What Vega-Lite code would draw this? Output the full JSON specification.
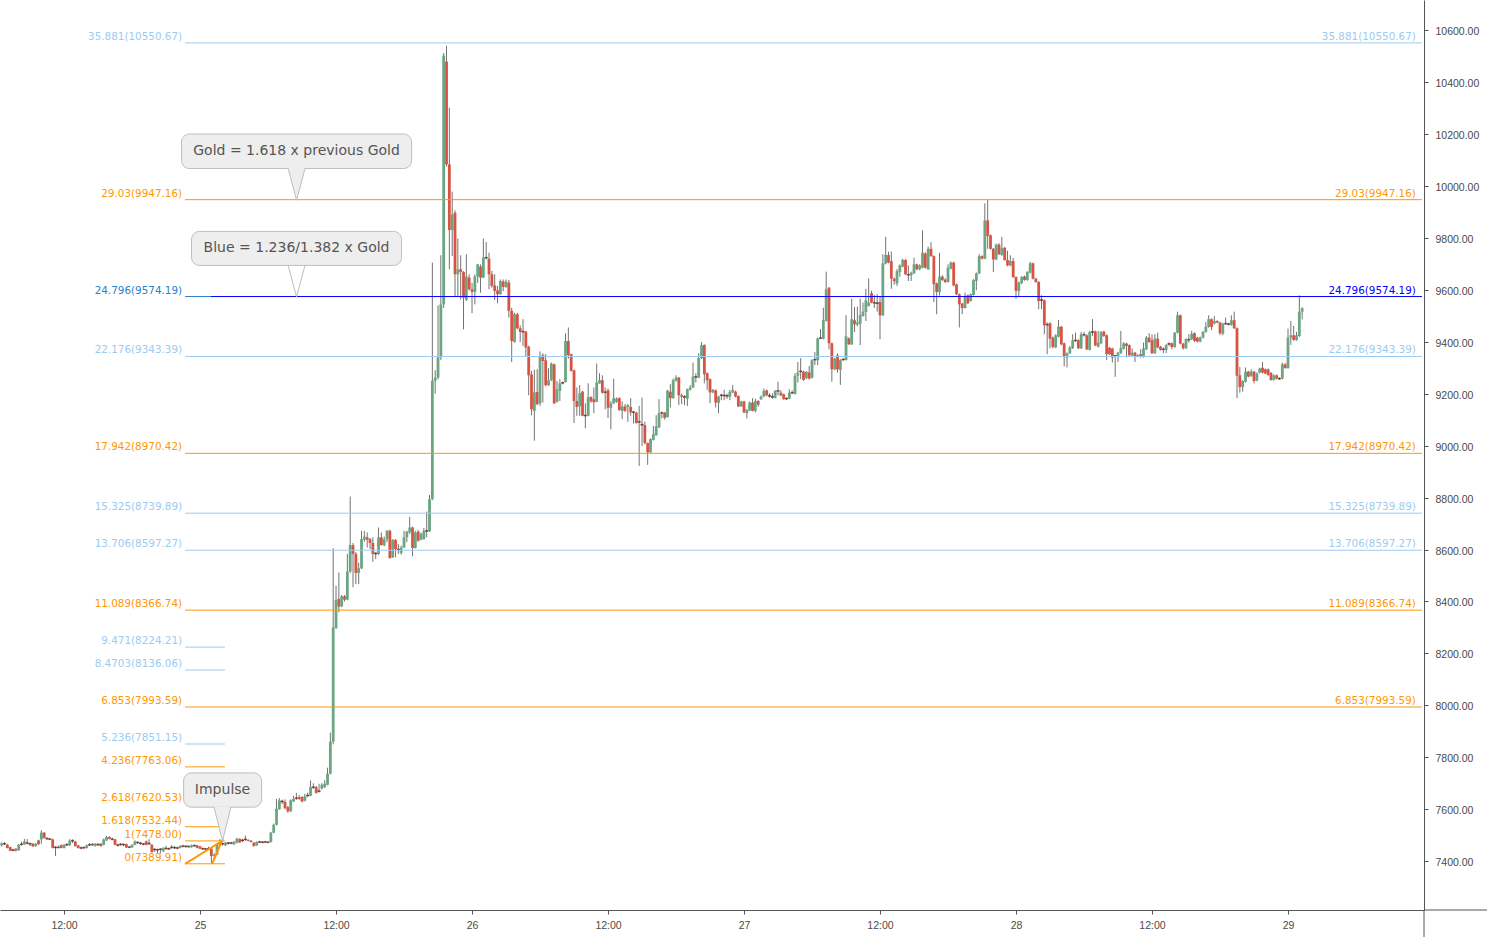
{"$schema":"https://vega.github.io/schema/vega-lite/v6.json","width":1424,"height":910,"autosize":"none","padding":{"left":0,"top":0,"right":63,"bottom":27},"background":"#ffffff","config":{"view":{"stroke":null}},
"datasets":{"candles":[
{"t":"2019-10-24T06:30","o":7460,"c":7469,"h":7472,"l":7457},{"t":"2019-10-24T06:45","o":7467,"c":7466,"h":7474,"l":7462},{"t":"2019-10-24T07:00","o":7463,"c":7451,"h":7467,"l":7449},{"t":"2019-10-24T07:15","o":7454,"c":7440,"h":7456,"l":7438},
{"t":"2019-10-24T07:30","o":7443,"c":7441,"h":7448,"l":7438},{"t":"2019-10-24T07:45","o":7448,"c":7441,"h":7450,"l":7437},{"t":"2019-10-24T08:00","o":7442,"c":7463,"h":7466,"l":7440},{"t":"2019-10-24T08:15","o":7465,"c":7464,"h":7475,"l":7460},
{"t":"2019-10-24T08:30","o":7465,"c":7476,"h":7486,"l":7462},{"t":"2019-10-24T08:45","o":7470,"c":7468,"h":7485,"l":7465},{"t":"2019-10-24T09:00","o":7467,"c":7466,"h":7472,"l":7458},{"t":"2019-10-24T09:15","o":7467,"c":7457,"h":7470,"l":7455},
{"t":"2019-10-24T09:30","o":7458,"c":7467,"h":7470,"l":7456},{"t":"2019-10-24T09:45","o":7480,"c":7465,"h":7483,"l":7463},{"t":"2019-10-24T10:00","o":7484,"c":7510,"h":7519,"l":7467},{"t":"2019-10-24T10:15","o":7510,"c":7489,"h":7512,"l":7487},
{"t":"2019-10-24T10:30","o":7487,"c":7486,"h":7492,"l":7482},{"t":"2019-10-24T10:45","o":7485,"c":7484,"h":7489,"l":7481},{"t":"2019-10-24T11:00","o":7484,"c":7451,"h":7486,"l":7449},{"t":"2019-10-24T11:15","o":7453,"c":7452,"h":7458,"l":7420},
{"t":"2019-10-24T11:30","o":7453,"c":7454,"h":7460,"l":7449},{"t":"2019-10-24T11:45","o":7462,"c":7451,"h":7464,"l":7449},{"t":"2019-10-24T12:00","o":7451,"c":7463,"h":7466,"l":7449},{"t":"2019-10-24T12:15","o":7463,"c":7462,"h":7470,"l":7459},
{"t":"2019-10-24T12:30","o":7461,"c":7479,"h":7485,"l":7459},{"t":"2019-10-24T12:45","o":7479,"c":7477,"h":7484,"l":7470},{"t":"2019-10-24T13:00","o":7476,"c":7458,"h":7478,"l":7456},{"t":"2019-10-24T13:15","o":7461,"c":7451,"h":7463,"l":7449},
{"t":"2019-10-24T13:30","o":7451,"c":7450,"h":7456,"l":7446},{"t":"2019-10-24T13:45","o":7452,"c":7451,"h":7457,"l":7447},{"t":"2019-10-24T14:00","o":7451,"c":7461,"h":7464,"l":7449},{"t":"2019-10-24T14:15","o":7463,"c":7462,"h":7470,"l":7459},
{"t":"2019-10-24T14:30","o":7464,"c":7465,"h":7470,"l":7460},{"t":"2019-10-24T14:45","o":7458,"c":7467,"h":7470,"l":7456},{"t":"2019-10-24T15:00","o":7464,"c":7463,"h":7469,"l":7459},{"t":"2019-10-24T15:15","o":7467,"c":7458,"h":7470,"l":7456},
{"t":"2019-10-24T15:30","o":7463,"c":7484,"h":7487,"l":7461},{"t":"2019-10-24T15:45","o":7480,"c":7493,"h":7497,"l":7478},{"t":"2019-10-24T16:00","o":7493,"c":7486,"h":7496,"l":7484},{"t":"2019-10-24T16:15","o":7485,"c":7484,"h":7490,"l":7480},
{"t":"2019-10-24T16:30","o":7484,"c":7463,"h":7486,"l":7461},{"t":"2019-10-24T16:45","o":7462,"c":7461,"h":7467,"l":7456},{"t":"2019-10-24T17:00","o":7465,"c":7464,"h":7469,"l":7459},{"t":"2019-10-24T17:15","o":7464,"c":7463,"h":7468,"l":7458},
{"t":"2019-10-24T17:30","o":7466,"c":7453,"h":7468,"l":7451},{"t":"2019-10-24T17:45","o":7454,"c":7453,"h":7458,"l":7450},{"t":"2019-10-24T18:00","o":7453,"c":7463,"h":7465,"l":7451},{"t":"2019-10-24T18:15","o":7463,"c":7476,"h":7480,"l":7461},
{"t":"2019-10-24T18:30","o":7472,"c":7471,"h":7476,"l":7467},{"t":"2019-10-24T18:45","o":7469,"c":7467,"h":7473,"l":7463},{"t":"2019-10-24T19:00","o":7466,"c":7465,"h":7470,"l":7461},{"t":"2019-10-24T19:15","o":7476,"c":7463,"h":7480,"l":7461},
{"t":"2019-10-24T19:30","o":7468,"c":7466,"h":7485,"l":7462},{"t":"2019-10-24T19:45","o":7463,"c":7435,"h":7466,"l":7433},{"t":"2019-10-24T20:00","o":7445,"c":7443,"h":7450,"l":7436},{"t":"2019-10-24T20:15","o":7444,"c":7443,"h":7448,"l":7432},
{"t":"2019-10-24T20:30","o":7446,"c":7445,"h":7450,"l":7429},{"t":"2019-10-24T20:45","o":7438,"c":7451,"h":7454,"l":7436},{"t":"2019-10-24T21:00","o":7449,"c":7448,"h":7460,"l":7445},{"t":"2019-10-24T21:15","o":7448,"c":7447,"h":7452,"l":7443},
{"t":"2019-10-24T21:30","o":7453,"c":7452,"h":7462,"l":7448},{"t":"2019-10-24T21:45","o":7452,"c":7451,"h":7458,"l":7447},{"t":"2019-10-24T22:00","o":7451,"c":7450,"h":7456,"l":7446},{"t":"2019-10-24T22:15","o":7451,"c":7458,"h":7462,"l":7449},
{"t":"2019-10-24T22:30","o":7458,"c":7457,"h":7463,"l":7453},{"t":"2019-10-24T22:45","o":7457,"c":7456,"h":7461,"l":7452},{"t":"2019-10-24T23:00","o":7456,"c":7458,"h":7462,"l":7452},{"t":"2019-10-24T23:15","o":7454,"c":7461,"h":7464,"l":7452},
{"t":"2019-10-24T23:30","o":7460,"c":7459,"h":7464,"l":7455},{"t":"2019-10-24T23:45","o":7461,"c":7451,"h":7463,"l":7449},{"t":"2019-10-25T00:00","o":7457,"c":7448,"h":7459,"l":7446},{"t":"2019-10-25T00:15","o":7448,"c":7447,"h":7452,"l":7443},
{"t":"2019-10-25T00:30","o":7447,"c":7446,"h":7451,"l":7442},{"t":"2019-10-25T00:45","o":7448,"c":7447,"h":7456,"l":7443},{"t":"2019-10-25T01:00","o":7448,"c":7420,"h":7450,"l":7393},{"t":"2019-10-25T01:15","o":7420,"c":7425,"h":7430,"l":7405},
{"t":"2019-10-25T01:30","o":7425,"c":7463,"h":7466,"l":7423},{"t":"2019-10-25T01:45","o":7467,"c":7465,"h":7485,"l":7462},{"t":"2019-10-25T02:00","o":7467,"c":7466,"h":7472,"l":7460},{"t":"2019-10-25T02:15","o":7461,"c":7471,"h":7474,"l":7459},
{"t":"2019-10-25T02:30","o":7470,"c":7468,"h":7474,"l":7464},{"t":"2019-10-25T02:45","o":7470,"c":7469,"h":7474,"l":7465},{"t":"2019-10-25T03:00","o":7465,"c":7474,"h":7478,"l":7463},{"t":"2019-10-25T03:15","o":7471,"c":7486,"h":7490,"l":7469},
{"t":"2019-10-25T03:30","o":7486,"c":7472,"h":7488,"l":7470},{"t":"2019-10-25T03:45","o":7480,"c":7478,"h":7486,"l":7474},{"t":"2019-10-25T04:00","o":7484,"c":7482,"h":7499,"l":7478},{"t":"2019-10-25T04:15","o":7482,"c":7478,"h":7484,"l":7476},
{"t":"2019-10-25T04:30","o":7479,"c":7474,"h":7481,"l":7472},{"t":"2019-10-25T04:45","o":7471,"c":7458,"h":7473,"l":7456},{"t":"2019-10-25T05:00","o":7461,"c":7474,"h":7476,"l":7459},{"t":"2019-10-25T05:15","o":7474,"c":7473,"h":7478,"l":7470},
{"t":"2019-10-25T05:30","o":7473,"c":7472,"h":7477,"l":7469},{"t":"2019-10-25T05:45","o":7474,"c":7473,"h":7478,"l":7470},{"t":"2019-10-25T06:00","o":7473,"c":7472,"h":7476,"l":7469},{"t":"2019-10-25T06:15","o":7474,"c":7510,"h":7513,"l":7472},
{"t":"2019-10-25T06:30","o":7510,"c":7540,"h":7545,"l":7508},{"t":"2019-10-25T06:45","o":7540,"c":7602,"h":7640,"l":7538},{"t":"2019-10-25T07:00","o":7600,"c":7634,"h":7643,"l":7598},{"t":"2019-10-25T07:15","o":7630,"c":7627,"h":7637,"l":7620},
{"t":"2019-10-25T07:30","o":7628,"c":7604,"h":7638,"l":7600},{"t":"2019-10-25T07:45","o":7608,"c":7592,"h":7612,"l":7586},{"t":"2019-10-25T08:00","o":7592,"c":7634,"h":7638,"l":7590},{"t":"2019-10-25T08:15","o":7630,"c":7640,"h":7652,"l":7628},
{"t":"2019-10-25T08:30","o":7643,"c":7642,"h":7663,"l":7636},{"t":"2019-10-25T08:45","o":7647,"c":7640,"h":7655,"l":7636},{"t":"2019-10-25T09:00","o":7647,"c":7630,"h":7650,"l":7626},{"t":"2019-10-25T09:15","o":7633,"c":7650,"h":7660,"l":7630},
{"t":"2019-10-25T09:30","o":7653,"c":7651,"h":7664,"l":7646},{"t":"2019-10-25T09:45","o":7652,"c":7685,"h":7711,"l":7650},{"t":"2019-10-25T10:00","o":7685,"c":7684,"h":7700,"l":7678},{"t":"2019-10-25T10:15","o":7685,"c":7663,"h":7690,"l":7660},
{"t":"2019-10-25T10:30","o":7670,"c":7668,"h":7698,"l":7664},{"t":"2019-10-25T10:45","o":7680,"c":7694,"h":7700,"l":7676},{"t":"2019-10-25T11:00","o":7685,"c":7698,"h":7712,"l":7682},{"t":"2019-10-25T11:15","o":7694,"c":7737,"h":7760,"l":7692},
{"t":"2019-10-25T11:30","o":7737,"c":7860,"h":7895,"l":7734},{"t":"2019-10-25T11:45","o":7860,"c":8300,"h":8605,"l":7850},{"t":"2019-10-25T12:00","o":8298,"c":8406,"h":8461,"l":8294},{"t":"2019-10-25T12:15","o":8410,"c":8381,"h":8512,"l":8358},
{"t":"2019-10-25T12:30","o":8381,"c":8420,"h":8425,"l":8378},{"t":"2019-10-25T12:45","o":8420,"c":8407,"h":8425,"l":8400},{"t":"2019-10-25T13:00","o":8407,"c":8515,"h":8583,"l":8405},{"t":"2019-10-25T13:15","o":8515,"c":8617,"h":8804,"l":8510},
{"t":"2019-10-25T13:30","o":8617,"c":8583,"h":8625,"l":8455},{"t":"2019-10-25T13:45","o":8583,"c":8510,"h":8590,"l":8467},{"t":"2019-10-25T14:00","o":8510,"c":8528,"h":8550,"l":8467},{"t":"2019-10-25T14:15","o":8528,"c":8640,"h":8672,"l":8525},
{"t":"2019-10-25T14:30","o":8638,"c":8650,"h":8672,"l":8630},{"t":"2019-10-25T14:45","o":8647,"c":8638,"h":8666,"l":8608},{"t":"2019-10-25T15:00","o":8640,"c":8625,"h":8645,"l":8602},{"t":"2019-10-25T15:15","o":8625,"c":8583,"h":8647,"l":8553},
{"t":"2019-10-25T15:30","o":8585,"c":8582,"h":8590,"l":8563},{"t":"2019-10-25T15:45","o":8583,"c":8647,"h":8685,"l":8579},{"t":"2019-10-25T16:00","o":8647,"c":8617,"h":8666,"l":8615},{"t":"2019-10-25T16:15","o":8617,"c":8640,"h":8650,"l":8612},
{"t":"2019-10-25T16:30","o":8640,"c":8672,"h":8675,"l":8628},{"t":"2019-10-25T16:45","o":8672,"c":8567,"h":8677,"l":8565},{"t":"2019-10-25T17:00","o":8570,"c":8637,"h":8640,"l":8568},{"t":"2019-10-25T17:15","o":8637,"c":8602,"h":8640,"l":8570},
{"t":"2019-10-25T17:30","o":8600,"c":8598,"h":8621,"l":8583},{"t":"2019-10-25T17:45","o":8587,"c":8608,"h":8615,"l":8580},{"t":"2019-10-25T18:00","o":8608,"c":8647,"h":8672,"l":8606},{"t":"2019-10-25T18:15","o":8647,"c":8669,"h":8672,"l":8628},
{"t":"2019-10-25T18:30","o":8666,"c":8685,"h":8726,"l":8660},{"t":"2019-10-25T18:45","o":8685,"c":8606,"h":8688,"l":8574},{"t":"2019-10-25T19:00","o":8606,"c":8666,"h":8672,"l":8604},{"t":"2019-10-25T19:15","o":8669,"c":8634,"h":8675,"l":8630},
{"t":"2019-10-25T19:30","o":8638,"c":8660,"h":8665,"l":8636},{"t":"2019-10-25T19:45","o":8640,"c":8672,"h":8683,"l":8638},{"t":"2019-10-25T20:00","o":8672,"c":8670,"h":8746,"l":8647},{"t":"2019-10-25T20:15","o":8670,"c":8794,"h":8810,"l":8668},
{"t":"2019-10-25T20:30","o":8794,"c":9250,"h":9705,"l":8790},{"t":"2019-10-25T20:45","o":9250,"c":9262,"h":9290,"l":9200},{"t":"2019-10-25T21:00","o":9262,"c":9340,"h":9540,"l":9255},{"t":"2019-10-25T21:15","o":9340,"c":9544,"h":9733,"l":9330},
{"t":"2019-10-25T21:30","o":9544,"c":10502,"h":10512,"l":9530},{"t":"2019-10-25T21:45","o":10479,"c":10083,"h":10540,"l":10075},{"t":"2019-10-25T22:00","o":10083,"c":9830,"h":10301,"l":9679},{"t":"2019-10-25T22:15","o":9830,"c":9890,"h":9978,"l":9730},
{"t":"2019-10-25T22:30","o":9897,"c":9660,"h":9906,"l":9576},{"t":"2019-10-25T22:45","o":9660,"c":9679,"h":9797,"l":9576},{"t":"2019-10-25T23:00","o":9679,"c":9669,"h":9733,"l":9563},{"t":"2019-10-25T23:15","o":9669,"c":9570,"h":9672,"l":9448},
{"t":"2019-10-25T23:30","o":9562,"c":9651,"h":9737,"l":9557},{"t":"2019-10-25T23:45","o":9647,"c":9602,"h":9660,"l":9598},{"t":"2019-10-26T00:00","o":9602,"c":9592,"h":9627,"l":9510},{"t":"2019-10-26T00:15","o":9592,"c":9651,"h":9660,"l":9544},
{"t":"2019-10-26T00:30","o":9651,"c":9698,"h":9700,"l":9627},{"t":"2019-10-26T00:45","o":9689,"c":9647,"h":9698,"l":9589},{"t":"2019-10-26T01:00","o":9647,"c":9724,"h":9797,"l":9645},{"t":"2019-10-26T01:15","o":9724,"c":9722,"h":9784,"l":9717},
{"t":"2019-10-26T01:30","o":9720,"c":9660,"h":9743,"l":9602},{"t":"2019-10-26T01:45","o":9660,"c":9615,"h":9673,"l":9608},{"t":"2019-10-26T02:00","o":9617,"c":9596,"h":9660,"l":9561},{"t":"2019-10-26T02:15","o":9598,"c":9583,"h":9615,"l":9548},
{"t":"2019-10-26T02:30","o":9583,"c":9634,"h":9640,"l":9581},{"t":"2019-10-26T02:45","o":9632,"c":9611,"h":9640,"l":9595},{"t":"2019-10-26T03:00","o":9611,"c":9632,"h":9640,"l":9608},{"t":"2019-10-26T03:15","o":9628,"c":9519,"h":9638,"l":9493},
{"t":"2019-10-26T03:30","o":9519,"c":9403,"h":9531,"l":9322},{"t":"2019-10-26T03:45","o":9399,"c":9506,"h":9512,"l":9397},{"t":"2019-10-26T04:00","o":9506,"c":9452,"h":9512,"l":9448},{"t":"2019-10-26T04:15","o":9452,"c":9438,"h":9463,"l":9399},
{"t":"2019-10-26T04:30","o":9439,"c":9437,"h":9487,"l":9384},{"t":"2019-10-26T04:45","o":9439,"c":9378,"h":9442,"l":9345},{"t":"2019-10-26T05:00","o":9381,"c":9271,"h":9385,"l":9194},{"t":"2019-10-26T05:15","o":9274,"c":9140,"h":9288,"l":9117},
{"t":"2019-10-26T05:30","o":9134,"c":9205,"h":9292,"l":9019},{"t":"2019-10-26T05:45","o":9207,"c":9160,"h":9294,"l":9156},{"t":"2019-10-26T06:00","o":9163,"c":9345,"h":9363,"l":9153},{"t":"2019-10-26T06:15","o":9348,"c":9326,"h":9356,"l":9166},
{"t":"2019-10-26T06:30","o":9329,"c":9233,"h":9352,"l":9228},{"t":"2019-10-26T06:45","o":9233,"c":9252,"h":9298,"l":9230},{"t":"2019-10-26T07:00","o":9252,"c":9316,"h":9320,"l":9249},{"t":"2019-10-26T07:15","o":9313,"c":9163,"h":9316,"l":9160},
{"t":"2019-10-26T07:30","o":9169,"c":9217,"h":9249,"l":9166},{"t":"2019-10-26T07:45","o":9211,"c":9240,"h":9256,"l":9172},{"t":"2019-10-26T08:00","o":9242,"c":9240,"h":9247,"l":9236},{"t":"2019-10-26T08:15","o":9245,"c":9403,"h":9433,"l":9243},
{"t":"2019-10-26T08:30","o":9403,"c":9349,"h":9455,"l":9335},{"t":"2019-10-26T08:45","o":9352,"c":9288,"h":9355,"l":9285},{"t":"2019-10-26T09:00","o":9290,"c":9172,"h":9293,"l":9087},{"t":"2019-10-26T09:15","o":9172,"c":9149,"h":9224,"l":9115},
{"t":"2019-10-26T09:30","o":9151,"c":9202,"h":9233,"l":9115},{"t":"2019-10-26T09:45","o":9208,"c":9115,"h":9211,"l":9113},{"t":"2019-10-26T10:00","o":9116,"c":9115,"h":9163,"l":9067},{"t":"2019-10-26T10:15","o":9115,"c":9187,"h":9240,"l":9113},
{"t":"2019-10-26T10:30","o":9187,"c":9171,"h":9190,"l":9165},{"t":"2019-10-26T10:45","o":9179,"c":9167,"h":9224,"l":9125},{"t":"2019-10-26T11:00","o":9169,"c":9243,"h":9316,"l":9167},{"t":"2019-10-26T11:15","o":9240,"c":9252,"h":9279,"l":9238},
{"t":"2019-10-26T11:30","o":9252,"c":9204,"h":9271,"l":9200},{"t":"2019-10-26T11:45","o":9206,"c":9204,"h":9224,"l":9140},{"t":"2019-10-26T12:00","o":9213,"c":9146,"h":9220,"l":9106},{"t":"2019-10-26T12:15","o":9146,"c":9163,"h":9172,"l":9063},
{"t":"2019-10-26T12:30","o":9163,"c":9183,"h":9258,"l":9160},{"t":"2019-10-26T12:45","o":9169,"c":9181,"h":9186,"l":9165},{"t":"2019-10-26T13:00","o":9183,"c":9137,"h":9186,"l":9134},{"t":"2019-10-26T13:15","o":9134,"c":9151,"h":9170,"l":9102},
{"t":"2019-10-26T13:30","o":9151,"c":9134,"h":9160,"l":9130},{"t":"2019-10-26T13:45","o":9149,"c":9156,"h":9160,"l":9092},{"t":"2019-10-26T14:00","o":9149,"c":9128,"h":9183,"l":9115},{"t":"2019-10-26T14:15","o":9129,"c":9127,"h":9134,"l":9085},
{"t":"2019-10-26T14:30","o":9127,"c":9087,"h":9130,"l":9085},{"t":"2019-10-26T14:45","o":9092,"c":9090,"h":9153,"l":8922},{"t":"2019-10-26T15:00","o":9081,"c":9078,"h":9185,"l":8999},{"t":"2019-10-26T15:15","o":9079,"c":9010,"h":9092,"l":9005},
{"t":"2019-10-26T15:30","o":9010,"c":8974,"h":9012,"l":8926},{"t":"2019-10-26T15:45","o":8974,"c":9025,"h":9028,"l":8972},{"t":"2019-10-26T16:00","o":9022,"c":9044,"h":9076,"l":9020},{"t":"2019-10-26T16:15","o":9040,"c":9074,"h":9117,"l":9038},
{"t":"2019-10-26T16:30","o":9070,"c":9125,"h":9179,"l":9068},{"t":"2019-10-26T16:45","o":9126,"c":9125,"h":9132,"l":9105},{"t":"2019-10-26T17:00","o":9127,"c":9107,"h":9130,"l":9100},{"t":"2019-10-26T17:15","o":9110,"c":9212,"h":9215,"l":9108},
{"t":"2019-10-26T17:30","o":9208,"c":9183,"h":9237,"l":9147},{"t":"2019-10-26T17:45","o":9183,"c":9252,"h":9258,"l":9181},{"t":"2019-10-26T18:00","o":9250,"c":9262,"h":9271,"l":9246},{"t":"2019-10-26T18:15","o":9262,"c":9194,"h":9265,"l":9156},
{"t":"2019-10-26T18:30","o":9194,"c":9188,"h":9200,"l":9160},{"t":"2019-10-26T18:45","o":9188,"c":9186,"h":9194,"l":9156},{"t":"2019-10-26T19:00","o":9181,"c":9217,"h":9220,"l":9153},{"t":"2019-10-26T19:15","o":9215,"c":9224,"h":9233,"l":9212},
{"t":"2019-10-26T19:30","o":9224,"c":9266,"h":9320,"l":9222},{"t":"2019-10-26T19:45","o":9265,"c":9263,"h":9279,"l":9243},{"t":"2019-10-26T20:00","o":9262,"c":9337,"h":9356,"l":9260},{"t":"2019-10-26T20:15","o":9336,"c":9387,"h":9399,"l":9334},
{"t":"2019-10-26T20:30","o":9387,"c":9275,"h":9390,"l":9240},{"t":"2019-10-26T20:45","o":9279,"c":9252,"h":9282,"l":9215},{"t":"2019-10-26T21:00","o":9256,"c":9205,"h":9259,"l":9163},{"t":"2019-10-26T21:15","o":9205,"c":9215,"h":9218,"l":9202},
{"t":"2019-10-26T21:30","o":9213,"c":9166,"h":9216,"l":9147},{"t":"2019-10-26T21:45","o":9165,"c":9189,"h":9192,"l":9125},{"t":"2019-10-26T22:00","o":9194,"c":9192,"h":9200,"l":9175},{"t":"2019-10-26T22:15","o":9193,"c":9192,"h":9215,"l":9175},
{"t":"2019-10-26T22:30","o":9192,"c":9190,"h":9200,"l":9180},{"t":"2019-10-26T22:45","o":9188,"c":9207,"h":9215,"l":9175},{"t":"2019-10-26T23:00","o":9205,"c":9215,"h":9233,"l":9202},{"t":"2019-10-26T23:15","o":9208,"c":9189,"h":9212,"l":9186},
{"t":"2019-10-26T23:30","o":9191,"c":9151,"h":9194,"l":9148},{"t":"2019-10-26T23:45","o":9151,"c":9170,"h":9173,"l":9149},{"t":"2019-10-27T00:00","o":9170,"c":9128,"h":9173,"l":9125},{"t":"2019-10-27T00:15","o":9125,"c":9138,"h":9141,"l":9105},
{"t":"2019-10-27T00:30","o":9135,"c":9166,"h":9170,"l":9133},{"t":"2019-10-27T00:45","o":9166,"c":9134,"h":9183,"l":9132},{"t":"2019-10-27T01:00","o":9134,"c":9172,"h":9181,"l":9128},{"t":"2019-10-27T01:15","o":9172,"c":9158,"h":9175,"l":9150},
{"t":"2019-10-27T01:30","o":9179,"c":9189,"h":9193,"l":9176},{"t":"2019-10-27T01:45","o":9189,"c":9211,"h":9220,"l":9187},{"t":"2019-10-27T02:00","o":9213,"c":9194,"h":9216,"l":9190},{"t":"2019-10-27T02:15","o":9192,"c":9190,"h":9202,"l":9185},
{"t":"2019-10-27T02:30","o":9188,"c":9186,"h":9202,"l":9181},{"t":"2019-10-27T02:45","o":9184,"c":9211,"h":9214,"l":9182},{"t":"2019-10-27T03:00","o":9211,"c":9209,"h":9246,"l":9194},{"t":"2019-10-27T03:15","o":9204,"c":9194,"h":9213,"l":9190},
{"t":"2019-10-27T03:30","o":9198,"c":9179,"h":9200,"l":9177},{"t":"2019-10-27T03:45","o":9181,"c":9180,"h":9186,"l":9176},{"t":"2019-10-27T04:00","o":9181,"c":9204,"h":9217,"l":9179},{"t":"2019-10-27T04:15","o":9204,"c":9203,"h":9213,"l":9198},
{"t":"2019-10-27T04:30","o":9199,"c":9269,"h":9279,"l":9197},{"t":"2019-10-27T04:45","o":9269,"c":9281,"h":9322,"l":9243},{"t":"2019-10-27T05:00","o":9286,"c":9284,"h":9337,"l":9256},{"t":"2019-10-27T05:15","o":9285,"c":9253,"h":9288,"l":9250},
{"t":"2019-10-27T05:30","o":9261,"c":9284,"h":9287,"l":9256},{"t":"2019-10-27T05:45","o":9282,"c":9258,"h":9307,"l":9255},{"t":"2019-10-27T06:00","o":9261,"c":9329,"h":9333,"l":9259},{"t":"2019-10-27T06:15","o":9331,"c":9330,"h":9361,"l":9310},
{"t":"2019-10-27T06:30","o":9329,"c":9413,"h":9416,"l":9310},{"t":"2019-10-27T06:45","o":9414,"c":9413,"h":9449,"l":9410},{"t":"2019-10-27T07:00","o":9412,"c":9483,"h":9531,"l":9409},{"t":"2019-10-27T07:15","o":9480,"c":9602,"h":9670,"l":9478},
{"t":"2019-10-27T07:30","o":9608,"c":9394,"h":9611,"l":9371},{"t":"2019-10-27T07:45","o":9394,"c":9294,"h":9397,"l":9246},{"t":"2019-10-27T08:00","o":9294,"c":9335,"h":9338,"l":9291},{"t":"2019-10-27T08:15","o":9348,"c":9294,"h":9355,"l":9281},
{"t":"2019-10-27T08:30","o":9292,"c":9330,"h":9333,"l":9234},{"t":"2019-10-27T08:45","o":9332,"c":9330,"h":9336,"l":9326},{"t":"2019-10-27T09:00","o":9330,"c":9421,"h":9502,"l":9328},{"t":"2019-10-27T09:15","o":9413,"c":9390,"h":9417,"l":9388},
{"t":"2019-10-27T09:30","o":9390,"c":9487,"h":9566,"l":9388},{"t":"2019-10-27T09:45","o":9483,"c":9467,"h":9534,"l":9438},{"t":"2019-10-27T10:00","o":9466,"c":9474,"h":9535,"l":9460},{"t":"2019-10-27T10:15","o":9469,"c":9503,"h":9566,"l":9387},
{"t":"2019-10-27T10:30","o":9499,"c":9516,"h":9551,"l":9497},{"t":"2019-10-27T10:45","o":9515,"c":9560,"h":9604,"l":9480},{"t":"2019-10-27T11:00","o":9538,"c":9551,"h":9644,"l":9536},{"t":"2019-10-27T11:15","o":9587,"c":9551,"h":9596,"l":9548},
{"t":"2019-10-27T11:30","o":9550,"c":9549,"h":9580,"l":9530},{"t":"2019-10-27T11:45","o":9549,"c":9547,"h":9583,"l":9516},{"t":"2019-10-27T12:00","o":9553,"c":9502,"h":9574,"l":9410},{"t":"2019-10-27T12:15","o":9502,"c":9702,"h":9737,"l":9499},
{"t":"2019-10-27T12:30","o":9701,"c":9734,"h":9804,"l":9698},{"t":"2019-10-27T12:45","o":9734,"c":9705,"h":9747,"l":9702},{"t":"2019-10-27T13:00","o":9710,"c":9643,"h":9747,"l":9604},{"t":"2019-10-27T13:15","o":9643,"c":9634,"h":9647,"l":9620},
{"t":"2019-10-27T13:30","o":9625,"c":9672,"h":9680,"l":9615},{"t":"2019-10-27T13:45","o":9668,"c":9694,"h":9698,"l":9650},{"t":"2019-10-27T14:00","o":9689,"c":9715,"h":9720,"l":9687},{"t":"2019-10-27T14:15","o":9715,"c":9660,"h":9718,"l":9657},
{"t":"2019-10-27T14:30","o":9658,"c":9657,"h":9694,"l":9634},{"t":"2019-10-27T14:45","o":9656,"c":9666,"h":9670,"l":9634},{"t":"2019-10-27T15:00","o":9663,"c":9698,"h":9724,"l":9661},{"t":"2019-10-27T15:15","o":9698,"c":9679,"h":9701,"l":9676},
{"t":"2019-10-27T15:30","o":9679,"c":9694,"h":9698,"l":9675},{"t":"2019-10-27T15:45","o":9685,"c":9743,"h":9829,"l":9683},{"t":"2019-10-27T16:00","o":9740,"c":9685,"h":9744,"l":9682},{"t":"2019-10-27T16:15","o":9679,"c":9758,"h":9766,"l":9677},
{"t":"2019-10-27T16:30","o":9758,"c":9730,"h":9784,"l":9727},{"t":"2019-10-27T16:45","o":9730,"c":9622,"h":9733,"l":9553},{"t":"2019-10-27T17:00","o":9625,"c":9592,"h":9628,"l":9506},{"t":"2019-10-27T17:15","o":9592,"c":9651,"h":9743,"l":9578},
{"t":"2019-10-27T17:30","o":9651,"c":9638,"h":9656,"l":9634},{"t":"2019-10-27T17:45","o":9640,"c":9630,"h":9644,"l":9626},{"t":"2019-10-27T18:00","o":9630,"c":9685,"h":9698,"l":9628},{"t":"2019-10-27T18:15","o":9681,"c":9705,"h":9709,"l":9679},
{"t":"2019-10-27T18:30","o":9705,"c":9617,"h":9708,"l":9613},{"t":"2019-10-27T18:45","o":9621,"c":9583,"h":9624,"l":9580},{"t":"2019-10-27T19:00","o":9583,"c":9544,"h":9586,"l":9455},{"t":"2019-10-27T19:15","o":9547,"c":9530,"h":9550,"l":9506},
{"t":"2019-10-27T19:30","o":9530,"c":9576,"h":9589,"l":9528},{"t":"2019-10-27T19:45","o":9579,"c":9548,"h":9582,"l":9545},{"t":"2019-10-27T20:00","o":9557,"c":9583,"h":9586,"l":9555},{"t":"2019-10-27T20:15","o":9580,"c":9638,"h":9641,"l":9578},
{"t":"2019-10-27T20:30","o":9634,"c":9663,"h":9667,"l":9598},{"t":"2019-10-27T20:45","o":9663,"c":9730,"h":9737,"l":9660},{"t":"2019-10-27T21:00","o":9730,"c":9720,"h":9733,"l":9717},{"t":"2019-10-27T21:15","o":9720,"c":9867,"h":9933,"l":9718},
{"t":"2019-10-27T21:30","o":9867,"c":9807,"h":9946,"l":9758},{"t":"2019-10-27T21:45","o":9810,"c":9758,"h":9813,"l":9755},{"t":"2019-10-27T22:00","o":9758,"c":9717,"h":9761,"l":9669},{"t":"2019-10-27T22:15","o":9717,"c":9774,"h":9778,"l":9714},
{"t":"2019-10-27T22:30","o":9774,"c":9737,"h":9780,"l":9734},{"t":"2019-10-27T22:45","o":9734,"c":9762,"h":9804,"l":9731},{"t":"2019-10-27T23:00","o":9762,"c":9715,"h":9765,"l":9712},{"t":"2019-10-27T23:15","o":9715,"c":9694,"h":9750,"l":9691},
{"t":"2019-10-27T23:30","o":9694,"c":9711,"h":9733,"l":9691},{"t":"2019-10-27T23:45","o":9711,"c":9649,"h":9723,"l":9646},{"t":"2019-10-28T00:00","o":9649,"c":9596,"h":9652,"l":9566},{"t":"2019-10-28T00:15","o":9596,"c":9628,"h":9632,"l":9574},
{"t":"2019-10-28T00:30","o":9625,"c":9649,"h":9653,"l":9622},{"t":"2019-10-28T00:45","o":9651,"c":9638,"h":9655,"l":9635},{"t":"2019-10-28T01:00","o":9638,"c":9669,"h":9672,"l":9635},{"t":"2019-10-28T01:15","o":9666,"c":9702,"h":9707,"l":9663},
{"t":"2019-10-28T01:30","o":9702,"c":9643,"h":9705,"l":9640},{"t":"2019-10-28T01:45","o":9643,"c":9630,"h":9646,"l":9627},{"t":"2019-10-28T02:00","o":9630,"c":9557,"h":9634,"l":9525},{"t":"2019-10-28T02:15","o":9561,"c":9559,"h":9579,"l":9525},
{"t":"2019-10-28T02:30","o":9560,"c":9464,"h":9563,"l":9429},{"t":"2019-10-28T02:45","o":9466,"c":9464,"h":9475,"l":9352},{"t":"2019-10-28T03:00","o":9471,"c":9412,"h":9475,"l":9375},{"t":"2019-10-28T03:15","o":9416,"c":9380,"h":9420,"l":9375},
{"t":"2019-10-28T03:30","o":9378,"c":9425,"h":9429,"l":9375},{"t":"2019-10-28T03:45","o":9420,"c":9458,"h":9484,"l":9417},{"t":"2019-10-28T04:00","o":9458,"c":9390,"h":9461,"l":9387},{"t":"2019-10-28T04:15","o":9394,"c":9343,"h":9397,"l":9305},
{"t":"2019-10-28T04:30","o":9339,"c":9356,"h":9359,"l":9301},{"t":"2019-10-28T04:45","o":9356,"c":9378,"h":9384,"l":9353},{"t":"2019-10-28T05:00","o":9375,"c":9406,"h":9429,"l":9372},{"t":"2019-10-28T05:15","o":9405,"c":9404,"h":9435,"l":9400},
{"t":"2019-10-28T05:30","o":9406,"c":9375,"h":9410,"l":9372},{"t":"2019-10-28T05:45","o":9375,"c":9429,"h":9438,"l":9372},{"t":"2019-10-28T06:00","o":9427,"c":9426,"h":9438,"l":9420},{"t":"2019-10-28T06:15","o":9425,"c":9371,"h":9428,"l":9368},
{"t":"2019-10-28T06:30","o":9369,"c":9438,"h":9442,"l":9366},{"t":"2019-10-28T06:45","o":9438,"c":9436,"h":9487,"l":9422},{"t":"2019-10-28T07:00","o":9440,"c":9386,"h":9443,"l":9383},{"t":"2019-10-28T07:15","o":9381,"c":9397,"h":9442,"l":9378},
{"t":"2019-10-28T07:30","o":9394,"c":9438,"h":9441,"l":9391},{"t":"2019-10-28T07:45","o":9439,"c":9422,"h":9442,"l":9419},{"t":"2019-10-28T08:00","o":9425,"c":9352,"h":9428,"l":9330},{"t":"2019-10-28T08:15","o":9377,"c":9352,"h":9380,"l":9349},
{"t":"2019-10-28T08:30","o":9374,"c":9339,"h":9377,"l":9320},{"t":"2019-10-28T08:45","o":9346,"c":9344,"h":9349,"l":9265},{"t":"2019-10-28T09:00","o":9343,"c":9358,"h":9361,"l":9322},{"t":"2019-10-28T09:15","o":9356,"c":9375,"h":9442,"l":9353},
{"t":"2019-10-28T09:30","o":9373,"c":9394,"h":9398,"l":9370},{"t":"2019-10-28T09:45","o":9393,"c":9384,"h":9396,"l":9340},{"t":"2019-10-28T10:00","o":9387,"c":9348,"h":9390,"l":9345},{"t":"2019-10-28T10:15","o":9348,"c":9358,"h":9374,"l":9345},
{"t":"2019-10-28T10:30","o":9358,"c":9343,"h":9361,"l":9322},{"t":"2019-10-28T10:45","o":9348,"c":9343,"h":9352,"l":9340},{"t":"2019-10-28T11:00","o":9352,"c":9342,"h":9371,"l":9339},{"t":"2019-10-28T11:15","o":9342,"c":9374,"h":9397,"l":9339},
{"t":"2019-10-28T11:30","o":9371,"c":9416,"h":9422,"l":9368},{"t":"2019-10-28T11:45","o":9416,"c":9399,"h":9433,"l":9396},{"t":"2019-10-28T12:00","o":9406,"c":9356,"h":9429,"l":9353},{"t":"2019-10-28T12:15","o":9356,"c":9412,"h":9429,"l":9353},
{"t":"2019-10-28T12:30","o":9412,"c":9378,"h":9435,"l":9375},{"t":"2019-10-28T12:45","o":9381,"c":9369,"h":9384,"l":9366},{"t":"2019-10-28T13:00","o":9371,"c":9370,"h":9378,"l":9355},{"t":"2019-10-28T13:15","o":9369,"c":9387,"h":9391,"l":9356},
{"t":"2019-10-28T13:30","o":9392,"c":9390,"h":9398,"l":9384},{"t":"2019-10-28T13:45","o":9394,"c":9380,"h":9397,"l":9371},{"t":"2019-10-28T14:00","o":9380,"c":9435,"h":9438,"l":9377},{"t":"2019-10-28T14:15","o":9435,"c":9502,"h":9516,"l":9432},
{"t":"2019-10-28T14:30","o":9502,"c":9393,"h":9505,"l":9390},{"t":"2019-10-28T14:45","o":9393,"c":9375,"h":9396,"l":9370},{"t":"2019-10-28T15:00","o":9375,"c":9410,"h":9414,"l":9372},{"t":"2019-10-28T15:15","o":9408,"c":9407,"h":9429,"l":9397},
{"t":"2019-10-28T15:30","o":9410,"c":9431,"h":9442,"l":9407},{"t":"2019-10-28T15:45","o":9433,"c":9403,"h":9436,"l":9400},{"t":"2019-10-28T16:00","o":9416,"c":9401,"h":9419,"l":9398},{"t":"2019-10-28T16:15","o":9401,"c":9416,"h":9420,"l":9398},
{"t":"2019-10-28T16:30","o":9416,"c":9438,"h":9441,"l":9413},{"t":"2019-10-28T16:45","o":9438,"c":9458,"h":9476,"l":9435},{"t":"2019-10-28T17:00","o":9457,"c":9487,"h":9502,"l":9454},{"t":"2019-10-28T17:15","o":9487,"c":9457,"h":9490,"l":9445},
{"t":"2019-10-28T17:30","o":9470,"c":9480,"h":9499,"l":9467},{"t":"2019-10-28T17:45","o":9480,"c":9474,"h":9483,"l":9471},{"t":"2019-10-28T18:00","o":9474,"c":9433,"h":9477,"l":9426},{"t":"2019-10-28T18:15","o":9431,"c":9470,"h":9473,"l":9425},
{"t":"2019-10-28T18:30","o":9470,"c":9469,"h":9493,"l":9465},{"t":"2019-10-28T18:45","o":9468,"c":9467,"h":9473,"l":9463},{"t":"2019-10-28T19:00","o":9465,"c":9483,"h":9502,"l":9462},{"t":"2019-10-28T19:15","o":9483,"c":9452,"h":9516,"l":9449},
{"t":"2019-10-28T19:30","o":9452,"c":9269,"h":9455,"l":9183},{"t":"2019-10-28T19:45","o":9271,"c":9226,"h":9303,"l":9204},{"t":"2019-10-28T20:00","o":9226,"c":9249,"h":9252,"l":9208},{"t":"2019-10-28T20:15","o":9246,"c":9285,"h":9301,"l":9243},
{"t":"2019-10-28T20:30","o":9285,"c":9266,"h":9288,"l":9263},{"t":"2019-10-28T20:45","o":9268,"c":9285,"h":9294,"l":9265},{"t":"2019-10-28T21:00","o":9285,"c":9249,"h":9288,"l":9240},{"t":"2019-10-28T21:15","o":9251,"c":9278,"h":9282,"l":9248},
{"t":"2019-10-28T21:30","o":9281,"c":9297,"h":9300,"l":9278},{"t":"2019-10-28T21:45","o":9300,"c":9281,"h":9322,"l":9278},{"t":"2019-10-28T22:00","o":9294,"c":9278,"h":9297,"l":9275},{"t":"2019-10-28T22:15","o":9294,"c":9272,"h":9297,"l":9269},
{"t":"2019-10-28T22:30","o":9280,"c":9253,"h":9283,"l":9250},{"t":"2019-10-28T22:45","o":9253,"c":9271,"h":9274,"l":9250},{"t":"2019-10-28T23:00","o":9271,"c":9258,"h":9274,"l":9255},{"t":"2019-10-28T23:15","o":9258,"c":9257,"h":9263,"l":9253},
{"t":"2019-10-28T23:30","o":9258,"c":9313,"h":9320,"l":9255},{"t":"2019-10-28T23:45","o":9313,"c":9299,"h":9318,"l":9296},{"t":"2019-10-29T00:00","o":9299,"c":9416,"h":9451,"l":9296},{"t":"2019-10-29T00:15","o":9416,"c":9425,"h":9480,"l":9388},
{"t":"2019-10-29T00:30","o":9425,"c":9407,"h":9461,"l":9404},{"t":"2019-10-29T00:45","o":9407,"c":9425,"h":9438,"l":9404},{"t":"2019-10-29T01:00","o":9422,"c":9516,"h":9579,"l":9419},{"t":"2019-10-29T01:15","o":9516,"c":9529,"h":9533,"l":9486}
],
"levels":[
{"label":"35.881(10550.67)","price":10550.67,"group":"pale","span":"full","x0":"2019-10-24T22:41","x1":"2019-10-29T11:49"},
{"label":"29.03(9947.16)","price":9947.16,"group":"gold","span":"full","x0":"2019-10-24T22:41","x1":"2019-10-29T11:49"},
{"label":"24.796(9574.19)","price":9574.19,"group":"mid","span":"short","x0":"2019-10-24T22:41","x1":"2019-10-25T00:58"},
{"label":"24.796(9574.19)","price":9574.19,"group":"strong","span":"full","x0":"2019-10-25T00:58","x1":"2019-10-29T11:49"},
{"label":"22.176(9343.39)","price":9343.39,"group":"pale","span":"full","x0":"2019-10-24T22:41","x1":"2019-10-29T11:49"},
{"label":"17.942(8970.42)","price":8970.42,"group":"gold","span":"full","x0":"2019-10-24T22:41","x1":"2019-10-29T11:49"},
{"label":"15.325(8739.89)","price":8739.89,"group":"pale","span":"full","x0":"2019-10-24T22:41","x1":"2019-10-29T11:49"},
{"label":"13.706(8597.27)","price":8597.27,"group":"pale","span":"full","x0":"2019-10-24T22:41","x1":"2019-10-29T11:49"},
{"label":"11.089(8366.74)","price":8366.74,"group":"gold","span":"full","x0":"2019-10-24T22:41","x1":"2019-10-29T11:49"},
{"label":"9.471(8224.21)","price":8224.21,"group":"pale","span":"short","x0":"2019-10-24T22:41","x1":"2019-10-25T02:12"},
{"label":"8.4703(8136.06)","price":8136.06,"group":"pale","span":"short","x0":"2019-10-24T22:41","x1":"2019-10-25T02:12"},
{"label":"6.853(7993.59)","price":7993.59,"group":"gold","span":"full","x0":"2019-10-24T22:41","x1":"2019-10-29T11:49"},
{"label":"5.236(7851.15)","price":7851.15,"group":"pale","span":"short","x0":"2019-10-24T22:41","x1":"2019-10-25T02:12"},
{"label":"4.236(7763.06)","price":7763.06,"group":"gold","span":"short","x0":"2019-10-24T22:41","x1":"2019-10-25T02:12"},
{"label":"2.618(7620.53)","price":7620.53,"group":"gold","span":"short","x0":"2019-10-24T22:41","x1":"2019-10-25T02:12"},
{"label":"1.618(7532.44)","price":7532.44,"group":"gold","span":"short","x0":"2019-10-24T22:41","x1":"2019-10-25T02:12"},
{"label":"1(7478.00)","price":7478,"group":"gold","span":"short","x0":"2019-10-24T22:41","x1":"2019-10-25T02:12"},
{"label":"0(7389.91)","price":7389.91,"group":"gold","span":"short","x0":"2019-10-24T22:41","x1":"2019-10-25T02:12"}
],
"impulse":[{"step":1,"t":"2019-10-24T22:41","price":7389.91},{"step":2,"t":"2019-10-25T01:56","price":7478},{"step":3,"t":"2019-10-25T01:04","price":7389.91}],
"callouts":[
{"text":"Gold = 1.618 x previous Gold","x0":"2019-10-24T22:22","x1":"2019-10-25T18:40","mid":"2019-10-25T08:31","top":10200,"bot":10067,"ymid":10133},
{"text":"Blue = 1.236/1.382 x Gold","x0":"2019-10-24T23:15","x1":"2019-10-25T17:47","mid":"2019-10-25T08:31","top":9825,"bot":9694,"ymid":9760},
{"text":"Impulse","x0":"2019-10-24T22:33","x1":"2019-10-25T05:26","mid":"2019-10-25T01:59","top":7740,"bot":7608,"ymid":7674}
],
"tails":[
{"id":"Gold","y":10070,"a":"2019-10-25T07:46","b":"2019-10-25T09:16"},{"id":"Gold","y":9945,"a":"2019-10-25T08:31","b":"2019-10-25T08:31"},
{"id":"Blue","y":9697,"a":"2019-10-25T07:46","b":"2019-10-25T09:16"},{"id":"Blue","y":9573,"a":"2019-10-25T08:31","b":"2019-10-25T08:31"},
{"id":"Impulse","y":7611,"a":"2019-10-25T01:14","b":"2019-10-25T02:44"},{"id":"Impulse","y":7478,"a":"2019-10-25T01:59","b":"2019-10-25T01:59"}
],
"tailEdges":[
{"id":"Gold","step":1,"t":"2019-10-25T07:46","price":10068},{"id":"Gold","step":2,"t":"2019-10-25T08:31","price":9945},{"id":"Gold","step":3,"t":"2019-10-25T09:16","price":10068},
{"id":"Blue","step":1,"t":"2019-10-25T07:46","price":9695},{"id":"Blue","step":2,"t":"2019-10-25T08:31","price":9573},{"id":"Blue","step":3,"t":"2019-10-25T09:16","price":9695},
{"id":"Impulse","step":1,"t":"2019-10-25T01:14","price":7609},{"id":"Impulse","step":2,"t":"2019-10-25T01:59","price":7478},{"id":"Impulse","step":3,"t":"2019-10-25T02:44","price":7609}
],
"frame":[
{"x0":"2019-10-29T12:00","x1":"2019-10-29T12:00","y0":7212,"y1":7100},
{"x0":"2019-10-29T12:00","x1":"2019-10-29T17:40","y0":7212,"y1":7212}
]},
"layer":[
{"data":{"name":"candles"},"mark":{"type":"rule","color":"#737373","strokeWidth":1},"encoding":{
"x":{"field":"t","type":"temporal","title":null,"scale":{"nice":false,"padding":0,"domain":[{"year":2019,"month":10,"date":24,"hours":6,"minutes":21},{"year":2019,"month":10,"date":29,"hours":12}]},
"axis":{"values":[{"year":2019,"month":10,"date":24,"hours":12},{"year":2019,"month":10,"date":25},{"year":2019,"month":10,"date":25,"hours":12},{"year":2019,"month":10,"date":26},{"year":2019,"month":10,"date":26,"hours":12},{"year":2019,"month":10,"date":27},{"year":2019,"month":10,"date":27,"hours":12},{"year":2019,"month":10,"date":28},{"year":2019,"month":10,"date":28,"hours":12},{"year":2019,"month":10,"date":29}],"labelExpr":"hours(datum.value)===12?'12:00':timeFormat(datum.value,'%-d')","grid":false,"domainColor":"#555555","tickColor":"#555555","tickSize":4,"labelPadding":6,"labelColor":"#4a4a4a","labelFont":"Liberation Sans","labelFontSize":10.5,"title":null}},
"y":{"field":"l","type":"quantitative","title":null,"scale":{"domain":[7212,10716],"nice":false,"zero":false,"padding":0},
"axis":{"orient":"right","values":[7400,7600,7800,8000,8200,8400,8600,8800,9000,9200,9400,9600,9800,10000,10200,10400,10600],"format":".2f","grid":false,"domainColor":"#555555","tickColor":"#555555","tickSize":4,"labelPadding":7,"labelOffset":1.5,"labelColor":"#4a4a4a","labelFont":"Liberation Sans","labelFontSize":10.5,"title":null}},
"y2":{"field":"h"}}},
{"data":{"name":"candles"},"mark":{"type":"bar","width":2.8},"encoding":{"x":{"field":"t","type":"temporal","title":null},"y":{"field":"o","type":"quantitative","title":null},"y2":{"field":"c"},"color":{"condition":{"test":"datum.c>=datum.o","value":"#6ba583"},"value":"#d75442"}}},
{"data":{"name":"candles"},"transform":[{"filter":"abs(datum.o-datum.c)<4"}],"mark":{"type":"tick","orient":"horizontal","size":3,"thickness":1.5},"encoding":{"x":{"field":"t","type":"temporal","title":null},"y":{"field":"o","type":"quantitative","title":null},"color":{"condition":{"test":"datum.c>=datum.o","value":"#225437"},"value":"#5b1a13"}}},
{"data":{"name":"frame"},"mark":{"type":"rule","color":"#555555","strokeWidth":1},"encoding":{"x":{"field":"x0","type":"temporal","title":null},"x2":{"field":"x1"},"y":{"field":"y0","type":"quantitative","title":null},"y2":{"field":"y1"}}},
{"data":{"name":"levels"},"mark":{"type":"rule","strokeWidth":1},"encoding":{"x":{"field":"x0","type":"temporal","title":null},"x2":{"field":"x1"},"y":{"field":"price","type":"quantitative","title":null},"color":{"field":"group","type":"nominal","legend":null,"scale":{"domain":["gold","pale","strong","mid"],"range":["#ff9800","#9ccbf2","#0000ff","#2a7fd0"]}}}},
{"data":{"name":"impulse"},"mark":{"type":"line","color":"#ff9800","strokeWidth":2},"encoding":{"x":{"field":"t","type":"temporal","title":null},"y":{"field":"price","type":"quantitative","title":null},"order":{"field":"step"}}},
{"data":{"name":"levels"},"transform":[{"filter":"datum.group!=='strong'"}],"mark":{"type":"text","align":"right","baseline":"middle","dy":-6,"font":"DejaVu Sans","fontSize":10.4},"encoding":{"x":{"datum":{"year":2019,"month":10,"date":24,"hours":22,"minutes":25},"type":"temporal","title":null},"y":{"field":"price","type":"quantitative","title":null},"text":{"field":"label"},"color":{"field":"group","type":"nominal","legend":null}}},
{"data":{"name":"levels"},"transform":[{"filter":"datum.span==='full'"}],"mark":{"type":"text","align":"right","baseline":"middle","dy":-6,"font":"DejaVu Sans","fontSize":10.4},"encoding":{"x":{"datum":{"year":2019,"month":10,"date":29,"hours":11,"minutes":17},"type":"temporal","title":null},"y":{"field":"price","type":"quantitative","title":null},"text":{"field":"label"},"color":{"field":"group","type":"nominal","legend":null}}},
{"data":{"name":"callouts"},"mark":{"type":"rect","cornerRadius":8,"fill":"#eeeeee","stroke":"#bdbdbd","strokeWidth":1},"encoding":{"x":{"field":"x0","type":"temporal","title":null},"x2":{"field":"x1"},"y":{"field":"top","type":"quantitative","title":null},"y2":{"field":"bot"}}},
{"data":{"name":"tails"},"mark":{"type":"area","orient":"horizontal","fill":"#eeeeee"},"encoding":{"y":{"field":"y","type":"quantitative","title":null},"x":{"field":"a","type":"temporal","title":null},"x2":{"field":"b"},"detail":{"field":"id"}}},
{"data":{"name":"tailEdges"},"mark":{"type":"line","color":"#bdbdbd","strokeWidth":1},"encoding":{"x":{"field":"t","type":"temporal","title":null},"y":{"field":"price","type":"quantitative","title":null},"detail":{"field":"id"},"order":{"field":"step"}}},
{"data":{"name":"callouts"},"mark":{"type":"text","align":"center","baseline":"middle","font":"DejaVu Sans","fontSize":14,"color":"#555555"},"encoding":{"x":{"field":"mid","type":"temporal","title":null},"y":{"field":"ymid","type":"quantitative","title":null},"text":{"field":"text"}}}
]}
